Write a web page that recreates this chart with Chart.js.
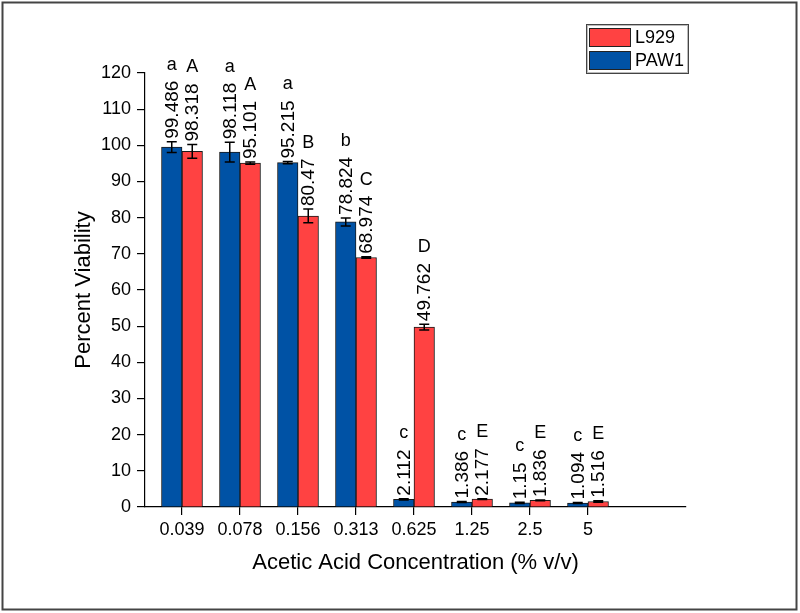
<!DOCTYPE html>
<html>
<head>
<meta charset="utf-8">
<script src="https://cdn.jsdelivr.net/npm/chart.js@4/dist/chart.umd.min.js"></script>
<style>
  html, body { margin: 0; padding: 0; background: #fff; }
  #wrap { width: 800px; height: 613px; }
</style>
</head>
<body>
<div id="wrap"><canvas id="c" width="800" height="613"></canvas></div>
<script>
const categories = ["0.039", "0.078", "0.156", "0.313", "0.625", "1.25", "2.5", "5"];
const paw1 = [99.486, 98.118, 95.215, 78.824, 2.112, 1.386, 1.15, 1.094];
const l929 = [98.318, 95.101, 80.47, 68.974, 49.762, 2.177, 1.836, 1.516];
const paw1Err = [1.5, 2.7, 0.3, 1.1, 0.2, 0.15, 0.15, 0.15];
const l929Err = [1.9, 0.3, 1.9, 0.2, 0.8, 0.1, 0.1, 0.2];
const paw1Letters = ["a", "a", "a", "b", "c", "c", "c", "c"];
const l929Letters = ["A", "A", "B", "C", "D", "E", "E", "E"];
const yTicks = [0, 10, 20, 30, 40, 50, 60, 70, 80, 90, 100, 110, 120];

const FONT = "'Liberation Sans', Arial, Helvetica, sans-serif";
const BLUE = "#0052a5";
const RED = "#ff4242";

const errs = [paw1Err, l929Err];
const letters = [paw1Letters, l929Letters];

const framePlugin = {
  id: 'frame',
  beforeDraw(chart) {
    const ctx = chart.ctx;
    ctx.save();
    ctx.fillStyle = '#fff';
    ctx.fillRect(0, 0, chart.width, chart.height);
    ctx.strokeStyle = '#444';
    ctx.lineWidth = 2;
    ctx.strokeRect(2.5, 2.5, 794, 607);
    ctx.restore();
  }
};

const annotPlugin = {
  id: 'annot',
  afterDatasetsDraw(chart) {
    const ctx = chart.ctx;
    const ys = chart.scales.y;
    ctx.save();
    chart.data.datasets.forEach((ds, di) => {
      const meta = chart.getDatasetMeta(di);
      meta.data.forEach((el, i) => {
        const v = ds.data[i].y;
        const e = errs[di][i];
        const x = el.x;
        const yt = ys.getPixelForValue(v + e);
        const yb = ys.getPixelForValue(v - e);
        ctx.strokeStyle = '#000';
        ctx.lineWidth = 1.5;
        ctx.beginPath();
        ctx.moveTo(x, yt); ctx.lineTo(x, yb);
        ctx.moveTo(x - 5, yt); ctx.lineTo(x + 5, yt);
        ctx.moveTo(x - 5, yb); ctx.lineTo(x + 5, yb);
        ctx.stroke();
        const txt = String(v);
        ctx.font = '19px ' + FONT;
        const w = ctx.measureText(txt).width;
        const base = yt - 3;
        ctx.save();
        ctx.translate(x + 1, base);
        ctx.rotate(-Math.PI / 2);
        ctx.fillStyle = '#000';
        ctx.textAlign = 'left';
        ctx.textBaseline = 'middle';
        ctx.fillText(txt, 0, 0);
        ctx.restore();
        ctx.font = '18px ' + FONT;
        ctx.fillStyle = '#000';
        ctx.textAlign = 'center';
        ctx.textBaseline = 'middle';
        ctx.fillText(letters[di][i], x, base - w - 16);
      });
    });
    ctx.restore();
  },
  afterDraw(chart) {
    const ctx = chart.ctx;
    const ds = chart.data.datasets;
    const order = [1, 0];
    ctx.save();
    ctx.strokeStyle = '#444';
    ctx.lineWidth = 1;
    ctx.strokeRect(586.5, 24.5, 102, 49);
    ctx.strokeStyle = '#bbb';
    ctx.strokeRect(587.5, 25.5, 100, 47);
    order.forEach((di, k) => {
      const y0 = 28 + k * 23;
      ctx.fillStyle = ds[di].backgroundColor;
      ctx.fillRect(589, y0, 42, 19);
      ctx.strokeStyle = '#222';
      ctx.strokeRect(589.5, y0 + 0.5, 41, 18);
      ctx.fillStyle = '#000';
      ctx.font = '18px ' + FONT;
      ctx.textAlign = 'left';
      ctx.textBaseline = 'middle';
      ctx.fillText(ds[di].label, 635, y0 + 10);
    });
    ctx.restore();
  }
};

const mk = (arr) => arr.map((v, i) => ({ x: i + 1, y: v }));

new Chart(document.getElementById('c'), {
  type: 'bar',
  data: {
    datasets: [
      { label: 'PAW1', data: mk(paw1), backgroundColor: BLUE, borderColor: '#1a1a1a', borderWidth: 1, barThickness: 20.5 },
      { label: 'L929', data: mk(l929), backgroundColor: RED, borderColor: '#1a1a1a', borderWidth: 1, barThickness: 20.5 }
    ]
  },
  options: {
    responsive: false,
    animation: false,
    devicePixelRatio: 1,
    layout: { padding: { left: 0, top: 73, right: 114, bottom: 0 } },
    plugins: { legend: { display: false }, tooltip: { enabled: false } },
    scales: {
      x: {
        type: 'linear',
        offset: false,
        min: 1 - 37 / 58,
        max: 1 + 504 / 58,
        afterBuildTicks: (s) => { s.ticks = categories.map((c, i) => ({ value: i + 1 })); },
        afterFit: (s) => { s.height = 106; },
        grid: { display: true, offset: false, drawOnChartArea: false, drawTicks: true, tickLength: 8, color: '#000', lineWidth: 1.2 },
        border: { display: true, color: '#000', width: 1.2 },
        ticks: {
          autoSkip: false, maxRotation: 0, padding: 4, color: '#000',
          font: { family: FONT, size: 18 },
          callback: (v) => categories[Math.round(v) - 1] || ''
        },
        title: {
          display: true, text: 'Acetic Acid Concentration (% v/v)', color: '#000',
          font: { family: FONT, size: 22 }, padding: { top: 0, bottom: 37 }
        }
      },
      y: {
        min: 0, max: 120,
        afterBuildTicks: (s) => { s.ticks = yTicks.map(v => ({ value: v })); },
        afterFit: (s) => { s.width = 145; },
        grid: { display: true, drawOnChartArea: false, drawTicks: true, tickLength: 8, color: '#000', lineWidth: 1.2 },
        border: { display: true, color: '#000', width: 1.2 },
        ticks: { padding: 6, color: '#000', font: { family: FONT, size: 18 } },
        title: {
          display: true, text: 'Percent Viability', color: '#000',
          font: { family: FONT, size: 22 }, padding: { top: 71, bottom: 0 }
        }
      }
    }
  },
  plugins: [framePlugin, annotPlugin]
});
</script>
</body>
</html>
